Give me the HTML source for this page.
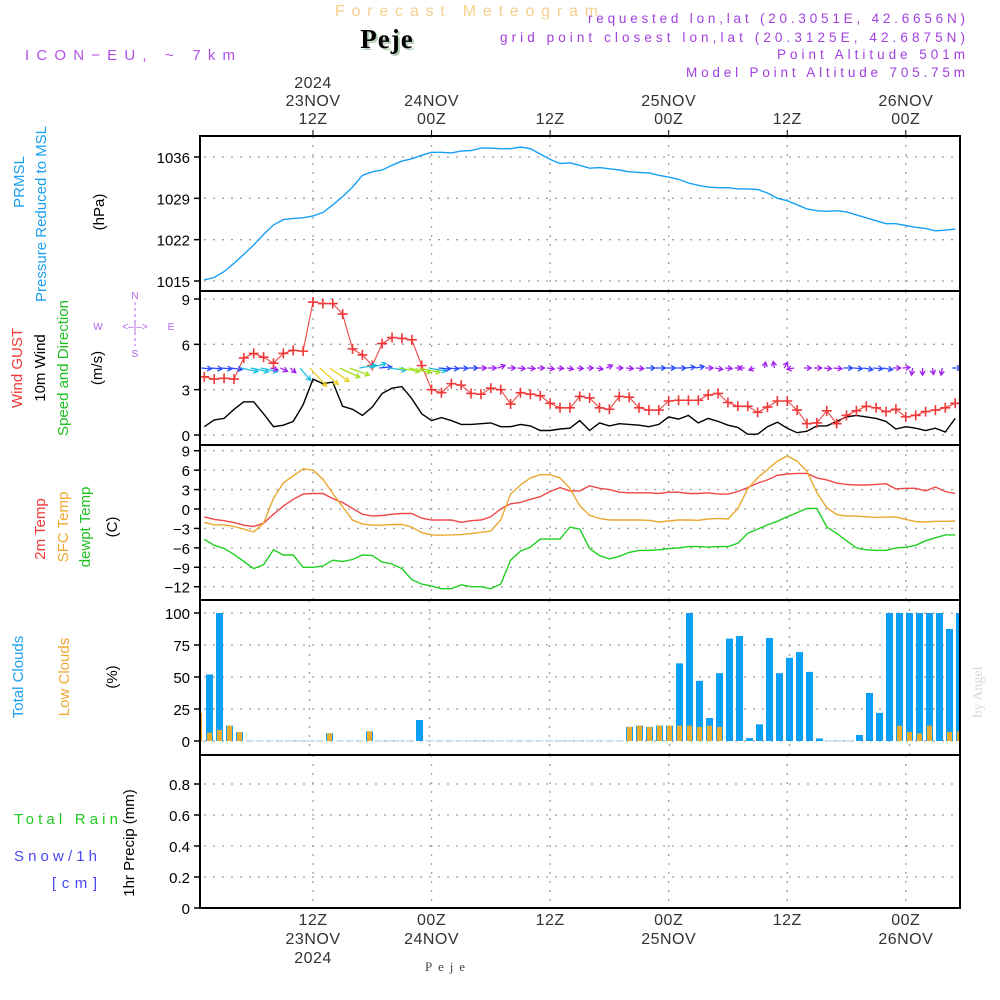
<!DOCTYPE html>
<html><head><meta charset="utf-8">
<style>
html,body{margin:0;padding:0;background:#fff;}
svg{display:block;font-family:"Liberation Sans",sans-serif;}
</style></head>
<body>
<svg id="chart" width="1000" height="1000" viewBox="0 0 1000 1000" xmlns="http://www.w3.org/2000/svg">
<rect x="0" y="0" width="1000" height="1000" fill="#fff"/>
<text x="335" y="16" font-size="16" fill="#f5d08f" textLength="263" lengthAdjust="spacing">Forecast Meteogram</text>
<text x="389" y="50" text-anchor="middle" font-size="27" font-weight="bold" fill="#b8d0b8" font-family="Liberation Serif,serif" letter-spacing="1">Peje</text>
<text x="387" y="48" text-anchor="middle" font-size="27" font-weight="bold" fill="#000" font-family="Liberation Serif,serif" letter-spacing="1">Peje</text>
<text x="25" y="60" font-size="15" fill="#b050e8" textLength="210" lengthAdjust="spacing">ICON−EU, ~ 7km</text>
<g font-size="13.5" fill="#a040e0">
<text x="588" y="23" textLength="377" lengthAdjust="spacing">requested lon,lat (20.3051E, 42.6656N)</text>
<text x="500" y="42" textLength="465" lengthAdjust="spacing">grid point closest lon,lat (20.3125E, 42.6875N)</text>
<text x="777" y="59" textLength="188" lengthAdjust="spacing">Point Altitude 501m</text>
<text x="686" y="77" textLength="279" lengthAdjust="spacing">Model Point Altitude 705.75m</text>
</g>
<g id="plot"></g>
<g font-size="15" text-anchor="middle">
<text transform="translate(24,182) rotate(-90)" fill="#1a9ff0">PRMSL</text>
<text transform="translate(46,214) rotate(-90)" fill="#1a9ff0">Pressure Reduced to MSL</text>
<text transform="translate(104,212) rotate(-90)" fill="#000">(hPa)</text>
<text transform="translate(22,368) rotate(-90)" fill="#f03838">Wind GUST</text>
<text transform="translate(45,368) rotate(-90)" fill="#000">10m Wind</text>
<text transform="translate(68,368) rotate(-90)" fill="#20c020">Speed and Direction</text>
<text transform="translate(102,368) rotate(-90)" fill="#000">(m/s)</text>
<text transform="translate(45,529) rotate(-90)" fill="#f03838">2m Temp</text>
<text transform="translate(68,527) rotate(-90)" fill="#f0a830">SFC Temp</text>
<text transform="translate(90,527) rotate(-90)" fill="#20c020">dewpt Temp</text>
<text transform="translate(117,527) rotate(-90)" fill="#000">(C)</text>
<text transform="translate(23,677) rotate(-90)" fill="#1a9ff0">Total Clouds</text>
<text transform="translate(69,677) rotate(-90)" fill="#f0a830">Low Clouds</text>
<text transform="translate(117,677) rotate(-90)" fill="#000">(%)</text>
<text transform="translate(134,843) rotate(-90)" fill="#000">1hr Precip (mm)</text>
</g>
<g font-size="15">
<text x="14" y="824" fill="#20c820" textLength="104" lengthAdjust="spacing">Total  Rain</text>
<text x="14" y="861" fill="#4848f0" textLength="83" lengthAdjust="spacing">Snow/1h</text>
<text x="52" y="888" fill="#4848f0" textLength="45" lengthAdjust="spacing">[cm]</text>
</g>
<g fill="#b060e8" font-size="10" text-anchor="middle">
<text x="135" y="299">N</text><text x="135" y="357">S</text>
<text x="98" y="330">W</text><text x="171" y="330">E</text>
<text x="135" y="330">&lt;–|–&gt;</text>
<line x1="135" y1="302" x2="135" y2="346" stroke="#b060e8" stroke-dasharray="3,3"/>
</g>
<text transform="translate(982,692) rotate(-90)" font-size="14" fill="#d8d8d8" font-family="Liberation Serif,serif" text-anchor="middle">by Angel</text>
<text x="425" y="971" font-size="13" fill="#444" font-family="Liberation Serif,serif" textLength="40" lengthAdjust="spacing">Peje</text>
</svg>
<script>
// ---- data (hourly, h = 1..77 hours after 00Z 23NOV) ----
const pressure = [1015.2,1015.6,1016.6,1018,1019.5,1021.1,1022.9,1024.5,1025.4,1025.6,1025.7,1026,1026.6,1027.9,1029.3,1030.9,1032.9,1033.5,1033.8,1034.6,1035.3,1035.7,1036.3,1036.8,1036.8,1036.7,1037,1037.1,1037.5,1037.5,1037.4,1037.4,1037.7,1037.4,1036.5,1035.6,1034.9,1035,1034.6,1034.1,1034.2,1034,1033.8,1033.5,1033.4,1033.3,1032.9,1032.6,1032.2,1031.6,1031.2,1030.9,1030.8,1030.8,1030.6,1030.6,1030.5,1029.9,1029,1028.6,1027.9,1027.2,1026.9,1026.8,1026.9,1026.7,1026.2,1025.7,1025.2,1024.7,1024.7,1024.4,1024.1,1023.9,1023.5,1023.6,1023.8];
const wind10m = [0.55,1.0,1.1,1.7,2.2,2.2,1.4,0.55,0.65,0.9,2.0,3.7,3.4,3.5,1.9,1.7,1.3,1.85,2.75,3.1,3.2,2.4,1.4,0.95,1.15,0.95,0.7,0.7,0.75,0.8,0.55,0.55,0.7,0.6,0.3,0.3,0.4,0.45,0.95,0.3,0.8,0.6,0.75,0.7,0.65,0.55,0.7,1.2,1.05,1.3,0.8,1.1,0.9,0.65,0.5,0.05,0.05,0.55,0.85,0.45,0.15,0.25,0.6,0.6,0.9,1.2,1.3,1.2,1.1,0.9,0.4,0.55,0.45,0.3,0.45,0.2,1.1];
const windGust = [3.85,3.7,3.75,3.7,5.1,5.4,5.15,4.75,5.4,5.6,5.55,8.8,8.7,8.7,8.0,5.7,5.3,4.6,6.05,6.45,6.4,6.3,4.6,3.0,2.8,3.4,3.3,2.75,2.7,3.1,3.0,2.05,2.8,2.7,2.6,2.1,1.8,1.8,2.55,2.45,1.8,1.7,2.55,2.5,1.8,1.65,1.65,2.25,2.3,2.3,2.3,2.65,2.75,2.15,1.9,1.9,1.5,1.85,2.25,2.25,1.65,0.75,0.8,1.6,0.75,1.3,1.6,1.9,1.8,1.55,1.7,1.2,1.3,1.55,1.65,1.8,2.1];
const arrowSpeed = [1.2,1.3,1.3,1.4,2.4,2.5,2.4,0.8,0.8,0.7,2.2,3.6,3.6,3.4,3.2,3.0,2.3,2.4,1.6,2.3,3.0,3.2,3.1,2.5,1.5,1.2,1.1,1.1,0.9,0.9,0.8,0.8,0.8,0.8,0.7,0.7,0.6,0.6,0.6,0.6,0.6,0.6,0.6,0.7,0.8,1.0,1.1,1.1,1.2,1.1,1.0,0.8,0.8,0.7,0.6,0.6,0.5,0.5,0.6,0.6,0.7,0.7,0.8,0.8,0.9,1.0,1.0,1.1,1.1,1.1,0.8,0.7,0.7,0.7,0.6,0.7,1.0];
const arrowDir = [5,5,5,8,12,12,12,15,25,40,50,48,42,35,25,20,-10,-15,-5,8,10,12,12,10,5,5,2,0,0,0,-20,0,5,5,0,8,5,10,5,0,10,-25,0,5,5,0,0,0,0,-5,-10,0,10,5,0,180,160,-80,-100,-60,170,0,0,5,5,0,5,10,5,10,0,-5,100,90,80,100,0];
const temp2m = [-1.2,-1.6,-1.8,-2.1,-2.5,-2.7,-2.2,-0.8,0.45,1.5,2.3,2.4,2.4,1.6,1.0,0.1,-0.8,-1.1,-1.0,-0.8,-0.7,-0.7,-1.4,-1.7,-1.7,-1.7,-2.05,-1.8,-1.7,-1.2,0,0.8,1.0,1.5,1.9,2.7,3.3,2.8,2.8,3.6,3.2,3.0,2.6,2.5,2.5,2.5,2.4,2.6,2.6,2.4,2.4,2.5,2.3,2.3,2.7,3.3,4.0,4.5,5.2,5.4,5.5,5.5,4.8,4.5,4.0,3.8,3.7,3.7,3.8,3.9,3.1,3.2,3.2,2.8,3.4,2.7,2.4];
const tempSfc = [-2.05,-2.45,-2.45,-2.7,-3.1,-3.55,-2.2,1.65,4.05,5.1,6.2,6.0,4.6,2.4,0.35,-1.7,-2.3,-2.5,-2.5,-2.4,-2.4,-2.8,-3.65,-4.0,-4.05,-4.0,-3.95,-3.8,-3.6,-3.4,-1.7,2.3,3.7,4.8,5.3,5.3,4.8,3.2,0.5,-0.95,-1.45,-1.7,-1.7,-1.7,-1.7,-1.75,-2.0,-1.85,-1.7,-1.7,-1.75,-1.55,-1.45,-1.55,0.05,3.1,4.8,6.1,7.4,8.2,7.4,5.8,2.5,0.2,-0.85,-1.1,-1.1,-1.2,-1.3,-1.25,-1.25,-1.6,-1.95,-2.0,-1.9,-1.9,-1.85];
const dewpt = [-4.7,-5.6,-6.1,-7.0,-8.1,-9.2,-8.6,-6.3,-7.1,-7.1,-9.0,-9.0,-8.8,-7.9,-8.1,-7.8,-7.1,-7.2,-8.2,-8.5,-9.2,-10.9,-11.6,-11.9,-12.3,-12.3,-11.7,-12.0,-12.0,-12.3,-11.6,-7.9,-6.5,-5.9,-4.65,-4.65,-4.65,-2.8,-3.1,-6.1,-7.2,-7.7,-7.3,-6.7,-6.4,-6.4,-6.3,-6.1,-6.0,-5.8,-5.8,-5.9,-5.8,-5.8,-5.3,-3.75,-3.1,-2.45,-1.9,-1.2,-0.55,0.1,0.1,-2.8,-3.75,-4.9,-6.0,-6.3,-6.4,-6.4,-6.0,-5.9,-5.6,-4.9,-4.45,-4.0,-4.0];
// clouds: bar index i = 0..76
const totalClouds = [0,52,100,12,7,0,0,0,0,0,0,0,0,6,0,0,0,7.5,0,0,0,0,16.4,0,0,0,0,0,0,0,0,0,0,0,0,0,0,0,0,0,0,0,0,11,12,11,12,12,60.7,100,47,18,53,80,82,2.3,13,80.5,53,65,69.5,54,2,0,0,0,4.7,37.5,22,100,100,100,100,100,100,87.5,100];
const lowClouds = [22,6.5,8.6,12,7,0,0,0,0,0,0,0,0,6,0,0,0,7.5,0,0,0,0,0,0,0,0,0,0,0,0,0,0,0,0,0,0,0,0,0,0,0,0,0,11,12,11,12,12,12,12,11,12,11,0,0,0,0,0,0,0,0,0,0,0,0,0,0,0,0,0,12,7,6,12,0,7,7.5];
const precip = new Array(77).fill(0);
const pressTicks = [1015,1022,1029,1036];
const windTicks = [0,3,6,9];
const tempTicks = [-12,-9,-6,-3,0,3,6,9];
const cloudTicks = [0,25,50,75,100];
const precipTicks = ["0","0.2","0.4","0.6","0.8"];
const timeTicks = [12,24,36,48,60,72];
const topLabels = [["2024","23NOV","12Z"],["24NOV","00Z"],["12Z"],["25NOV","00Z"],["12Z"],["26NOV","00Z"]];
const bottomLabels = [["12Z","23NOV","2024"],["00Z","24NOV"],["12Z"],["00Z","25NOV"],["12Z"],["00Z","26NOV"]];

// ---- scales ----
const X0=200, X1=960;
const xH = h => 313 + (h-12)*9.88;
const xBar = i => 199.5 + i*10;
const yP = p => 281 - (p-1015)*124/21;
const yW = v => 435 - v*136/9;
const yT = t => 509 - t*136/21;
const yC = c => 741 - c*1.28;
const yR = r => 908 - r*155;
const panels=[[136,291],[291,445],[445,600],[600,755],[755,908]];

const NS="http://www.w3.org/2000/svg";
const plot=document.getElementById('plot');
function mk(tag,attrs,parent){const e=document.createElementNS(NS,tag);for(const k in attrs)e.setAttribute(k,attrs[k]);(parent||plot).appendChild(e);return e;}

const defs=mk('defs',{});
panels.forEach((p,i)=>{const c=mk('clipPath',{id:'clip'+i},defs);mk('rect',{x:X0,y:p[0],width:X1-X0,height:p[1]-p[0]},c);});

const grid=mk('g',{stroke:'#a0a0a0','stroke-width':1.3,'stroke-dasharray':'2,7'});


panels.forEach((p,pi)=>{timeTicks.forEach(h=>{const x=pi===3?xBar(h-0.3)-7:xH(h);mk('line',{x1:x,y1:p[0],x2:x,y2:p[1]},grid);});});
function hgrid(ticks,ys,pi,labels){
  ticks.forEach((t,i)=>{const y=ys(+t);
    mk('line',{x1:X0+4,y1:y,x2:X1,y2:y},grid);
    mk('line',{x1:194,y1:y,x2:X0,y2:y,stroke:'#000','stroke-width':1.5});
    const tx=mk('text',{x:190,y:y+6,'text-anchor':'end','font-size':15,fill:'#000'});
    tx.textContent=labels?labels[i]:(t<0?'−'+(-t):t);
    
    
  });
}
hgrid(pressTicks,yP,0);hgrid(windTicks,yW,1);hgrid(tempTicks,yT,2);hgrid(cloudTicks,yC,3);hgrid(precipTicks,yR,4,precipTicks);

function line(arr,xf,yf,color,clip,name,w){
  const d=arr.map((v,i)=>(i?'L':'M')+xf(i+1).toFixed(1)+','+yf(v).toFixed(1)).join('');
  const p=mk('path',{d:d,fill:'none',stroke:color,'stroke-width':w||1.4,'clip-path':'url(#clip'+clip+')'});
  
  
  return p;
}
line(pressure,xH,yP,'#16a0f5',0,'pressure-line');
line(wind10m,xH,yW,'#000',1,'wind-10m-line');
line(windGust,xH,yW,'#f04848',1,'wind-gust-line',1.1);
const gm=mk('g',{stroke:'#f03838','stroke-width':1.6,'clip-path':'url(#clip1)'});


windGust.forEach((v,i)=>{const x=xH(i+1),y=yW(v);mk('path',{d:`M${x-5},${y}H${x+5}M${x},${y-5}V${y+5}`},gm);});
const wa=mk('g',{'clip-path':'url(#clip1)','stroke-width':1.3,fill:'none'});


function spdColor(s){return s<1?'#a020f0':s<1.8?'#2848ff':s<2.7?'#18c0e0':s<3.3?'#a0e020':'#e8d020';}
arrowSpeed.forEach((s,i)=>{
  const x=xH(i+1)-3,y=368,a=arrowDir[i]*Math.PI/180,L=3+s*6;
  const ex=x+L*Math.cos(a),ey=y+L*Math.sin(a),c=spdColor(s);
  const h1=a+2.6,h2=a-2.6;
  mk('path',{d:`M${x},${y}L${ex},${ey}M${ex+5*Math.cos(h1)},${ey+5*Math.sin(h1)}L${ex},${ey}L${ex+5*Math.cos(h2)},${ey+5*Math.sin(h2)}`,stroke:c},wa);
});
line(temp2m,xH,yT,'#f04848',2,'temp-2m-line');
line(tempSfc,xH,yT,'#eaa830',2,'temp-sfc-line');
line(dewpt,xH,yT,'#20d020',2,'dewpoint-line');
const cb=mk('g',{'clip-path':'url(#clip3)'});


totalClouds.forEach((c,i)=>{const x=xBar(i);
  if(c>0)mk('rect',{x:x-3.5,y:yC(c),width:7,height:741-yC(c),fill:'#0aa0f8'},cb);
  else mk('line',{x1:x-4,y1:741,x2:x+4,y2:741,stroke:'#a0c8e8','stroke-width':1},cb);
  const l=lowClouds[i];if(l>0)mk('rect',{x:x-2.5,y:yC(l),width:5,height:741-yC(l),fill:'#e8ac30'},cb);
});
const pl=line(precip,xH,yR,'#000',4,'precip-line',1.5);pl.setAttribute('stroke-dasharray','5,2');
panels.forEach((p,i)=>{const r=mk('rect',{x:X0,y:p[0],width:X1-X0,height:p[1]-p[0],fill:'none',stroke:'#000','stroke-width':2});
  
  });
timeTicks.forEach((h,i)=>{const x=xH(h);
  mk('line',{x1:x,y1:130,x2:x,y2:136,stroke:'#000'});
  const tl=topLabels[i];tl.forEach((s,j)=>{const t=mk('text',{x:x,y:124-(tl.length-1-j)*18,'text-anchor':'middle','font-size':16,fill:'#333','letter-spacing':0.5});t.textContent=s;
    
    });
  bottomLabels[i].forEach((s,j)=>{const t=mk('text',{x:x,y:925+j*19,'text-anchor':'middle','font-size':16,fill:'#333','letter-spacing':0.5});t.textContent=s;
    
    });
});
</script>
</body></html>
